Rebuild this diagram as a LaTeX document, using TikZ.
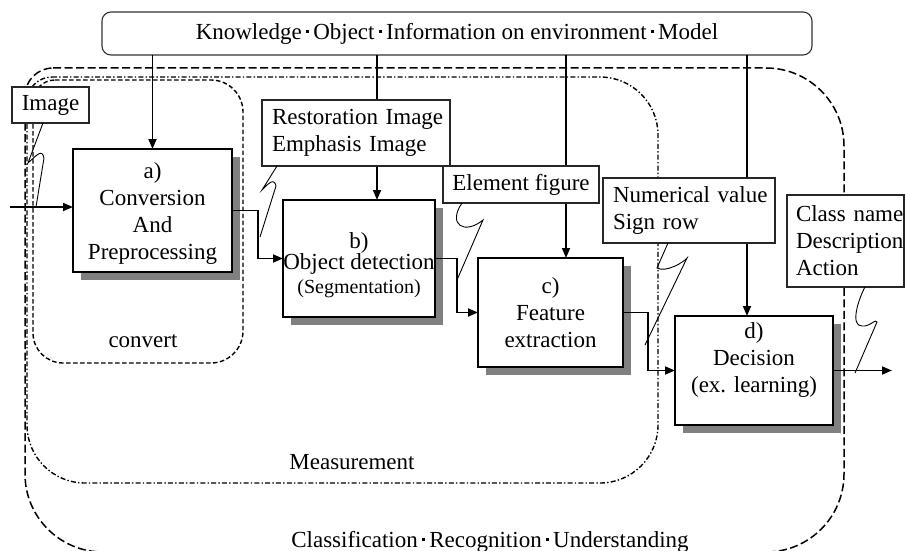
\documentclass[tikz,border=0pt]{standalone}
\usepackage{fontspec}
\setmainfont{Liberation Serif}
\usetikzlibrary{arrows.meta,shadows,calc}
\newcommand\mdot{\hspace{0.18em}\rule[0.27em]{0.14em}{0.14em}\hspace{0.18em}}

\begin{document}
\begin{tikzpicture}[x=1pt,y=1pt,
  every node/.style={inner sep=0pt, outer sep=0pt},
  txt/.style={font=\fontsize{23}{27}\selectfont, align=center},
  stage/.style={draw=black, line width=1.2pt, fill=white,
    drop shadow={shadow xshift=8pt, shadow yshift=-8pt, fill=black!50, opacity=1}},
  note/.style={draw=black!85, line width=1.1pt, fill=white, txt},
  leftnote/.style={note, align=left, inner xsep=10pt},
  link/.style={line width=1.7pt, -{Triangle[length=10pt,width=8pt]}},
  tail/.style={line width=0.9pt},
  outerzone/.style={line width=1.5pt, dash pattern=on 8pt off 3.5pt},
  midzone/.style={line width=1.4pt, dash pattern=on 5pt off 2.2pt on 1.4pt off 2.2pt},
  innerzone/.style={line width=1.4pt, dash pattern=on 4.5pt off 2.5pt},
]
\useasboundingbox (0,0) rectangle (905,-551);

% --- zones: classification (outer), measurement, convert
\draw[outerzone] (53,-68) -- (766,-68) arc[start angle=90,end angle=0,radius=78pt]
  -- (844,-474) arc[start angle=0,end angle=-90,radius=78pt]
  -- (103,-552) arc[start angle=270,end angle=180,radius=78pt]
  -- (25,-96) arc[start angle=180,end angle=90,radius=28pt] -- cycle;
\draw[midzone] (52,-77) -- (600,-77) arc[start angle=90,end angle=0,radius=58pt]
  -- (658,-425) arc[start angle=0,end angle=-90,radius=58pt]
  -- (85,-483) arc[start angle=270,end angle=180,radius=58pt]
  -- (27,-102) arc[start angle=180,end angle=90,radius=25pt] -- cycle;
\draw[innerzone] (55,-80) -- (211,-80) arc[start angle=90,end angle=0,radius=32pt]
  -- (243,-331) arc[start angle=0,end angle=-90,radius=32pt]
  -- (63,-363) arc[start angle=270,end angle=180,radius=30pt]
  -- (33,-102) arc[start angle=180,end angle=90,radius=22pt] -- cycle;

\node[txt] (lconv) at (143,-341) {convert};
\node[txt] (lmeas) at (352,-462) {Measurement};
\node[txt] (lclass) at (490,-542) {Classification\mdot Recognition\mdot Understanding};

% --- knowledge bar
\node[draw=black!80, line width=1.1pt, fill=white, rounded corners=9pt,
  minimum width=710pt, minimum height=43pt, txt] (kb) at (457,-33.5)
  {Knowledge\mdot Object\mdot Information on environment\mdot Model};

% --- processing stages
\node[stage, minimum width=159pt, minimum height=123pt] (a) at (152.5,-210.5) {};
\node[stage, minimum width=152pt, minimum height=117pt] (b) at (359,-258.5) {};
\node[stage, minimum width=145pt, minimum height=109pt] (c) at (550.5,-312.5) {};
\node[stage, minimum width=158pt, minimum height=109pt] (d) at (754,-370.5) {};

\node[txt] (ta) at ($(a.center)+(0,-3.5)$) {a)\\Conversion\\And\\Preprocessing};
\node[txt] (tb) at ($(b.center)+(0,-7)$) {b)\\[-6pt]Object detection\\[-3pt]{\fontsize{20}{24}\selectfont (Segmentation)}};
\node[txt] (tc) at ($(c.center)+(0,-0.5)$) {c)\\Feature\\extraction};
\node[txt] (td) at ($(d.center)+(0,10.5)$) {d)\\Decision\\(ex. learning)};

% --- knowledge feeds
\coordinate (xb) at (377,0);
\coordinate (xc) at (566,0);
\coordinate (xd) at (747,0);
\draw[link] (kb.south -| a.north) -- (a.north);
\draw[link] (kb.south -| xb) -- (b.north -| xb);
\draw[link] (kb.south -| xc) -- (c.north -| xc);
\draw[link] (kb.south -| xd) -- (d.north -| xd);

% --- intermediate data notes
\node[note, minimum width=77pt, minimum height=36pt] (img) at (50.5,-105) {Image};
\node[leftnote, text width=168pt, minimum height=66pt] (rs) at (356,-133)
  {\mbox{Restoration Image}\\\mbox{Emphasis Image}};
\node[note, minimum width=156pt, minimum height=37pt] (ef) at (521,-184.5) {Element figure};
\node[leftnote, text width=152pt, minimum height=65pt] (nv) at (689,-210.5)
  {\mbox{Numerical value}\\\mbox{Sign row}};
\node[leftnote, inner xsep=9pt, text width=99pt, minimum height=92pt] (cn) at (845.5,-241)
  {\mbox{Class name}\\\mbox{Description}\\\mbox{Action}};

% --- stage flow
\coordinate (in) at (10,-207);
\coordinate (out) at (892,-373);
\draw[link] (in) -- (in -| a.west);
\draw[link] (a.east) -- ++(26,0) |- (b.west);
\draw[link] (b.east) -- ++(22,0) |- (c.west);
\draw[link] (c.east) -- ++(25,0) |- (d.west);
\draw[link] (d.east) -- (d.east -| out);

% --- callout tails
\draw[tail] ($(img.south west)+(31,0)$) -- (28,-163)
  .. controls (36,-156) and (42,-148) .. (44,-158) -- (36,-207);
\draw[tail] ($(rs.south west)+(15,0)$) -- (262,-190)
  .. controls (268,-184) and (274,-177) .. (276,-186) -- (260,-237);
\draw[tail] ($(ef.south west)+(19,0)$) .. controls (447,-225) and (465,-235) .. (483,-220)
  -- (457,-280);
\draw[tail] ($(nv.south west)+(65,0)$) -- (657,-268)
  .. controls (666,-273) and (684,-262) .. (687,-258) -- (645,-345);
\draw[tail] ($(cn.south west)+(78,0)$) .. controls (858,-300) and (850,-326) .. (862,-326)
  .. controls (870,-327) and (876,-318) .. (877,-322) -- (855,-373);
\end{tikzpicture}
\end{document}
